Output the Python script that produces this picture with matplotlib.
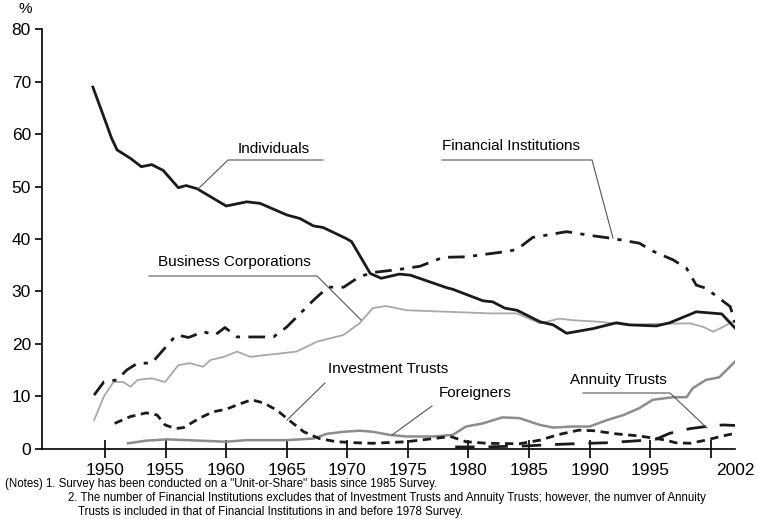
import matplotlib
matplotlib.use("Agg")
import matplotlib.pyplot as plt

plt.rcParams['font.family'] = ['Liberation Sans', 'DejaVu Sans']

# shareholding ratio by type of shareholder (%)
ind_years = [1949, 1950, 1950.55, 1951, 1952.1, 1953, 1953.85, 1954.8, 1956.05, 1956.7, 1957.6,
             1960, 1961.7, 1962.8, 1965, 1966.1, 1967.2, 1968, 1969.9, 1970.35, 1971.9, 1972.8,
             1974.3, 1975.2, 1978.2, 1978.7, 1981.2, 1982, 1983, 1984, 1985.9, 1987, 1988.1,
             1990.3, 1992.2, 1993.3, 1995.5, 1996.6, 1998.8, 2000.9, 2002]
ind_vals = [69.0, 62.7, 59.2, 57.0, 55.4, 53.8, 54.2, 53.1, 49.8, 50.2, 49.6,
            46.3, 47.1, 46.8, 44.6, 43.9, 42.5, 42.2, 40.1, 39.5, 33.4, 32.5,
            33.3, 33.1, 30.7, 30.4, 28.2, 28.0, 26.8, 26.4, 24.2, 23.6, 22.0,
            22.9, 24.0, 23.6, 23.4, 24.0, 26.1, 25.7, 23.0]

fin_years = [1949.1, 1949.9, 1951, 1951.8, 1952.7, 1953.85, 1954.8, 1955.9, 1956.9, 1958.1, 1959.1,
             1959.9, 1960.9, 1963.9, 1965, 1967.2, 1968.4, 1969.7, 1971, 1972.1, 1974.3, 1976,
             1977.9, 1979.8, 1983.1, 1984, 1985.3, 1988.1, 1990, 1991.9, 1994.1, 1995.2, 1996.9,
             1998, 1998.8, 1999.6, 2001.6, 2002]
fin_vals = [10.2, 12.7, 13.1, 15.0, 16.3, 16.3, 18.8, 21.7, 21.2, 22.3, 21.7,
            23.1, 21.3, 21.3, 23.2, 28.3, 30.8, 30.8, 32.8, 33.6, 34.2, 34.8,
            36.5, 36.6, 37.6, 38.0, 40.3, 41.4, 40.7, 40.1, 39.2, 37.7, 36.0,
            34.4, 31.2, 30.6, 27.1, 24.0]

biz_years = [1949.1, 1949.9, 1950.7, 1951.5, 1952.1, 1952.7, 1953.85, 1954.96, 1956.05, 1957, 1958.1,
             1958.7, 1959.8, 1960.9, 1962, 1963.1, 1965.8, 1967.5, 1969.7, 1971, 1972.1, 1973.2,
             1974.9, 1981.8, 1984, 1985.9, 1987.5, 1988.6, 1990.8, 1993, 1995.5, 1998.3, 1999.4,
             2000.2, 2001, 2002]
biz_vals = [5.4, 9.9, 12.7, 12.7, 11.8, 13.1, 13.4, 12.7, 15.9, 16.3, 15.6,
            16.9, 17.5, 18.5, 17.5, 17.8, 18.5, 20.4, 21.7, 23.9, 26.8, 27.2,
            26.4, 25.8, 25.8, 23.9, 24.8, 24.5, 24.2, 23.6, 23.8, 23.9, 23.2,
            22.3, 23.2, 24.5]

inv_years = [1950.8, 1952.1, 1953.4, 1954.3, 1954.96, 1955.8, 1956.5, 1957.8, 1958.9, 1960, 1961.1,
             1962.1, 1963.1, 1964.2, 1965.2, 1966.4, 1967.7, 1969.1, 1970.7, 1972.1, 1974.9, 1977.1,
             1978.5, 1979.8, 1981.5, 1984.2, 1985.9, 1987.5, 1989.1, 1990.3, 1992.2, 1994.1, 1995.5,
             1996.3, 1997.1, 1998.3, 1999.6, 2001, 2002]
inv_vals = [4.8, 6.1, 6.8, 6.4, 4.5, 3.8, 4.0, 5.8, 7.0, 7.5, 8.5,
            9.3, 8.7, 7.3, 5.4, 3.2, 1.9, 1.3, 1.1, 1.0, 1.3, 1.9,
            2.3, 1.3, 1.0, 0.9, 1.6, 2.7, 3.5, 3.4, 2.8, 2.4, 1.9,
            1.6, 1.1, 1.0, 1.6, 2.4, 2.9]

ann_years = [1978.9, 1981.2, 1984.8, 1986.4, 1988.6, 1991.4, 1994.1, 1995.5, 1996.6, 1998.3, 1999.6,
             2001, 2002]
ann_vals = [0.3, 0.3, 0.5, 0.7, 0.9, 1.1, 1.5, 1.8, 2.9, 3.8, 4.2, 4.5, 4.4]

for_years = [1951.9, 1953.4, 1955.1, 1960, 1961.7, 1965, 1967.2, 1968.3, 1969.7, 1971, 1972.1,
             1973.5, 1974.9, 1977.1, 1978.7, 1979.8, 1981.2, 1982.8, 1984.2, 1985.9, 1987, 1988.6,
             1990, 1991.4, 1992.8, 1994.1, 1995.2, 1996.9, 1998, 1998.5, 1999.6, 2000.7, 2002]
for_vals = [1.0, 1.5, 1.75, 1.3, 1.6, 1.6, 1.9, 2.8, 3.2, 3.4, 3.2,
            2.6, 2.3, 2.3, 2.6, 4.2, 4.8, 5.95, 5.8, 4.5, 4.0, 4.2,
            4.2, 5.4, 6.4, 7.7, 9.3, 9.8, 9.8, 11.5, 13.1, 13.6, 16.6]

x_ticks = [1950, 1955, 1960, 1965, 1970, 1975, 1980, 1985, 1990, 1995, 2000, 2002]
x_labels = ['1950', '1955', '1960', '1965', '1970', '1975', '1980', '1985', '1990', '1995', '', '2002']

fig = plt.figure(figsize=(7.58, 5.19), dpi=100)
ax = fig.add_axes([0.0554, 0.1358, 0.9143, 0.8074])

ax.plot(biz_years, biz_vals, color='#a8a8a8', lw=1.3)
ax.plot(for_years, for_vals, color='#8c8c8c', lw=1.8)
ax.plot(ind_years, ind_vals, color='#1a1a1a', lw=2)
ax.plot(fin_years, fin_vals, color='#1a1a1a', lw=2, dashes=(6, 3, 1.5, 3))
ax.plot(inv_years, inv_vals, color='#1a1a1a', lw=2, dashes=(3, 2))
ax.plot(ann_years, ann_vals, color='#1a1a1a', lw=2, dashes=(7, 5))

ax.set_xlim(1944.8, 2002)
ax.set_ylim(0, 80)
ax.set_yticks(range(0, 81, 10))
ax.set_xticks(x_ticks)
ax.set_xticklabels(x_labels)
ax.xaxis.get_major_ticks()[-1].tick1line.set_visible(False)
for s in ['top', 'right']:
    ax.spines[s].set_visible(False)
ax.spines['left'].set_linewidth(1.2)
ax.spines['bottom'].set_linewidth(1.2)
ax.tick_params(axis='y', direction='out', length=5, width=1.2, pad=3, labelsize=12.5)
ax.tick_params(axis='x', direction='inout', length=13, width=1.2, pad=4, labelsize=12.5)

fig.text(25, 510, '%', transform=None, fontsize=11, ha='center', va='center')

# callout labels with leader lines (figure pixel coordinates)
lc = '#555555'
def pix(x, y):
    return x, 519 - y

def callout(text, tx, ty, line_pts, ha='left'):
    fig.text(*pix(tx, ty), text, transform=None, fontsize=11, ha=ha, va='center')
    xs = [p[0] for p in line_pts]
    ys = [519 - p[1] for p in line_pts]
    fig.add_artist(plt.Line2D(xs, ys, transform=None, color=lc, lw=0.8))

callout('Individuals', 238, 149, [(323, 160), (228, 160), (198, 189)])
callout('Financial Institutions', 442, 146, [(442, 160), (592, 160), (613, 238)])
callout('Business Corporations', 158, 262, [(149, 276), (317, 276), (361, 320)])
callout('Investment Trusts', 328, 369, [(325, 383), (287, 420)])
callout('Foreigners', 439, 393, [(432, 406), (392, 435)])
callout('Annuity Trusts', 570, 380, [(583, 393), (670, 393), (707, 428)])

notes = [
    (5, 484, '(Notes) 1. Survey has been conducted on a "Unit-or-Share" basis since 1985 Survey.'),
    (68, 498, '2. The number of Financial Institutions excludes that of Investment Trusts and Annuity Trusts; however, the numver of Annuity'),
    (78, 512, 'Trusts is included in that of Financial Institutions in and before 1978 Survey.'),
]
for nx, ny, nt in notes:
    fig.text(*pix(nx, ny), nt, transform=None, fontsize=8.3, ha='left', va='center')

fig.savefig('out.png', dpi=100)
